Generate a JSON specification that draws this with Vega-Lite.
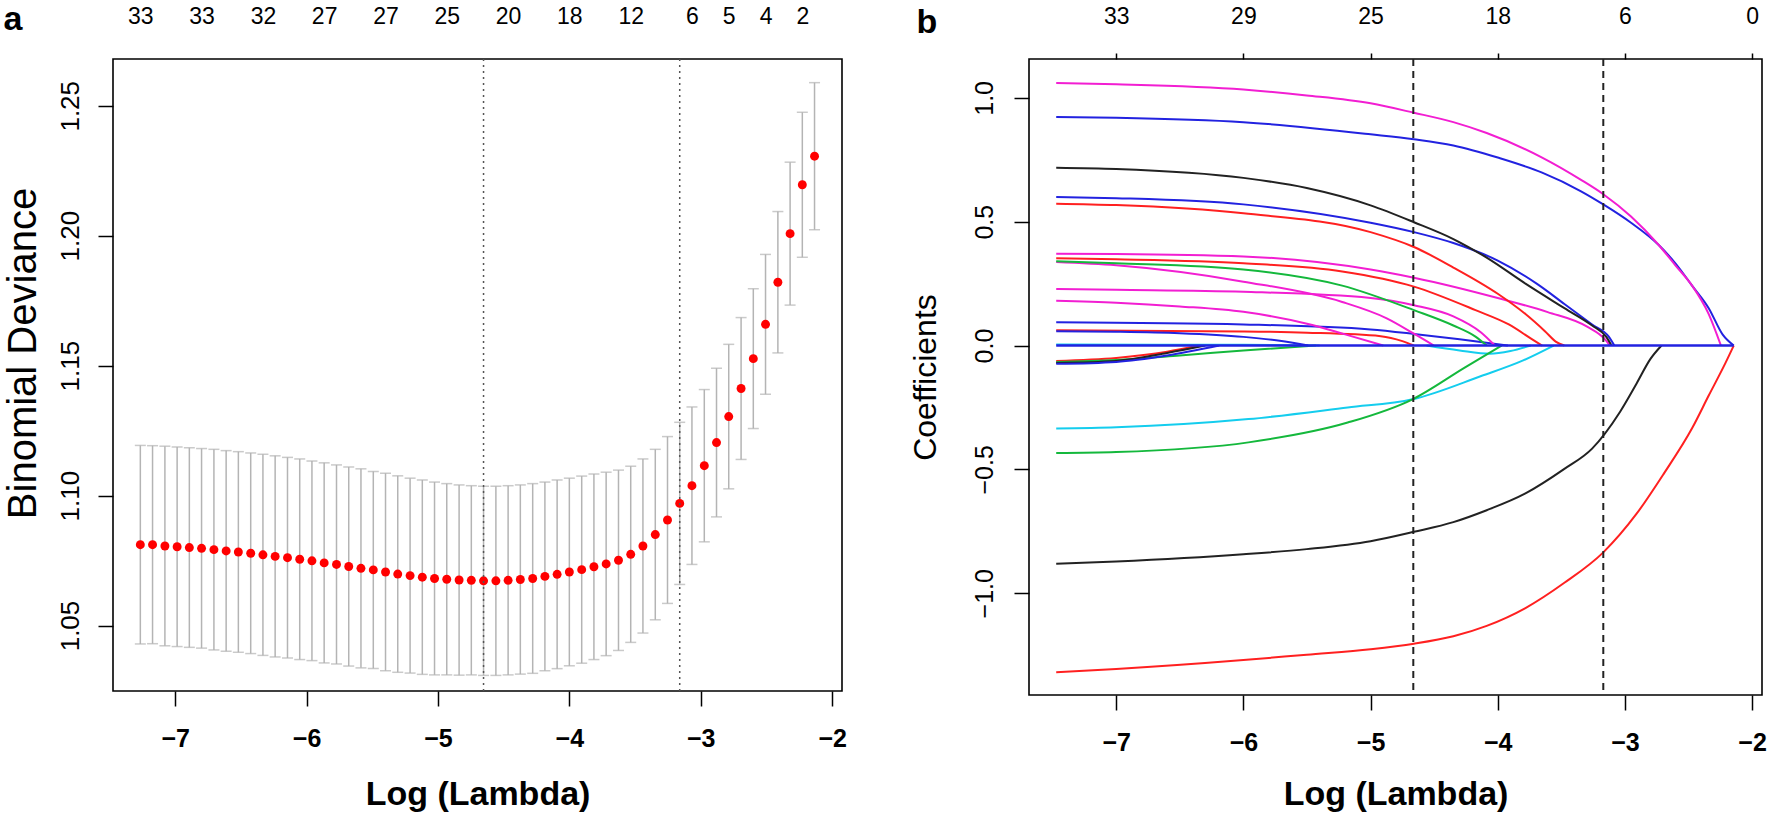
{
  "$schema": "https://vega.github.io/schema/vega-lite/v6.json",
  "padding": {"left": 2, "top": 1, "right": 2, "bottom": 2},
  "background": "white",
  "config": {
    "font": "Liberation Sans",
    "view": {"stroke": "#000000", "strokeWidth": 1.6},
    "axis": {"grid": false, "domain": false, "tickColor": "#000000", "tickWidth": 1.5, "labelColor": "#000000", "titleColor": "#000000", "labelOverlap": false, "labelFlush": false, "labelBound": false, "labelFont": "Liberation Sans", "titleFont": "Liberation Sans"}
  },
  "datasets": {
    "cv": [
      {"x": -7.265, "dev": 1.0811, "lo": 1.0429, "hi": 1.1193},
      {"x": -7.172, "dev": 1.0811, "lo": 1.0430, "hi": 1.1192},
      {"x": -7.078, "dev": 1.0806, "lo": 1.0422, "hi": 1.1190},
      {"x": -6.985, "dev": 1.0803, "lo": 1.0419, "hi": 1.1187},
      {"x": -6.892, "dev": 1.0800, "lo": 1.0416, "hi": 1.1184},
      {"x": -6.799, "dev": 1.0797, "lo": 1.0413, "hi": 1.1181},
      {"x": -6.705, "dev": 1.0792, "lo": 1.0406, "hi": 1.1178},
      {"x": -6.612, "dev": 1.0787, "lo": 1.0401, "hi": 1.1173},
      {"x": -6.519, "dev": 1.0783, "lo": 1.0397, "hi": 1.1169},
      {"x": -6.425, "dev": 1.0778, "lo": 1.0392, "hi": 1.1164},
      {"x": -6.332, "dev": 1.0772, "lo": 1.0385, "hi": 1.1159},
      {"x": -6.239, "dev": 1.0766, "lo": 1.0379, "hi": 1.1153},
      {"x": -6.145, "dev": 1.0761, "lo": 1.0375, "hi": 1.1147},
      {"x": -6.052, "dev": 1.0755, "lo": 1.0369, "hi": 1.1141},
      {"x": -5.959, "dev": 1.0749, "lo": 1.0365, "hi": 1.1133},
      {"x": -5.866, "dev": 1.0741, "lo": 1.0356, "hi": 1.1126},
      {"x": -5.772, "dev": 1.0735, "lo": 1.0352, "hi": 1.1118},
      {"x": -5.679, "dev": 1.0727, "lo": 1.0344, "hi": 1.1110},
      {"x": -5.586, "dev": 1.0720, "lo": 1.0337, "hi": 1.1103},
      {"x": -5.492, "dev": 1.0714, "lo": 1.0335, "hi": 1.1093},
      {"x": -5.399, "dev": 1.0706, "lo": 1.0326, "hi": 1.1086},
      {"x": -5.306, "dev": 1.0698, "lo": 1.0320, "hi": 1.1076},
      {"x": -5.212, "dev": 1.0692, "lo": 1.0317, "hi": 1.1067},
      {"x": -5.119, "dev": 1.0686, "lo": 1.0312, "hi": 1.1060},
      {"x": -5.026, "dev": 1.0681, "lo": 1.0310, "hi": 1.1052},
      {"x": -4.933, "dev": 1.0678, "lo": 1.0310, "hi": 1.1046},
      {"x": -4.839, "dev": 1.0675, "lo": 1.0309, "hi": 1.1041},
      {"x": -4.746, "dev": 1.0674, "lo": 1.0310, "hi": 1.1038},
      {"x": -4.653, "dev": 1.0672, "lo": 1.0308, "hi": 1.1036},
      {"x": -4.559, "dev": 1.0672, "lo": 1.0308, "hi": 1.1036},
      {"x": -4.466, "dev": 1.0674, "lo": 1.0310, "hi": 1.1038},
      {"x": -4.373, "dev": 1.0677, "lo": 1.0313, "hi": 1.1041},
      {"x": -4.279, "dev": 1.0681, "lo": 1.0316, "hi": 1.1046},
      {"x": -4.186, "dev": 1.0689, "lo": 1.0326, "hi": 1.1052},
      {"x": -4.093, "dev": 1.0697, "lo": 1.0334, "hi": 1.1060},
      {"x": -4.000, "dev": 1.0706, "lo": 1.0345, "hi": 1.1067},
      {"x": -3.906, "dev": 1.0715, "lo": 1.0355, "hi": 1.1075},
      {"x": -3.813, "dev": 1.0726, "lo": 1.0369, "hi": 1.1083},
      {"x": -3.720, "dev": 1.0737, "lo": 1.0384, "hi": 1.1090},
      {"x": -3.626, "dev": 1.0751, "lo": 1.0404, "hi": 1.1098},
      {"x": -3.533, "dev": 1.0774, "lo": 1.0435, "hi": 1.1113},
      {"x": -3.440, "dev": 1.0806, "lo": 1.0471, "hi": 1.1141},
      {"x": -3.346, "dev": 1.0850, "lo": 1.0522, "hi": 1.1178},
      {"x": -3.253, "dev": 1.0906, "lo": 1.0585, "hi": 1.1227},
      {"x": -3.160, "dev": 1.0970, "lo": 1.0658, "hi": 1.1282},
      {"x": -3.067, "dev": 1.1038, "lo": 1.0735, "hi": 1.1341},
      {"x": -2.973, "dev": 1.1115, "lo": 1.0822, "hi": 1.1408},
      {"x": -2.880, "dev": 1.1204, "lo": 1.0918, "hi": 1.1490},
      {"x": -2.787, "dev": 1.1304, "lo": 1.1026, "hi": 1.1582},
      {"x": -2.693, "dev": 1.1412, "lo": 1.1139, "hi": 1.1685},
      {"x": -2.600, "dev": 1.1527, "lo": 1.1258, "hi": 1.1796},
      {"x": -2.507, "dev": 1.1659, "lo": 1.1390, "hi": 1.1928},
      {"x": -2.413, "dev": 1.1821, "lo": 1.1549, "hi": 1.2093},
      {"x": -2.320, "dev": 1.2008, "lo": 1.1733, "hi": 1.2283},
      {"x": -2.227, "dev": 1.2196, "lo": 1.1917, "hi": 1.2475},
      {"x": -2.134, "dev": 1.2306, "lo": 1.2023, "hi": 1.2589}
    ],
    "vla": [{"x": -4.653}, {"x": -3.16}],
    "vlb": [{"x": -4.664}, {"x": -3.17}],
    "zero": [{"v": "V0", "x": -7.472, "y": 0}, {"v": "V0", "x": -2.144, "y": 0}],
    "paths": [
      {"v": "V20", "x": -7.472, "y": -0.062}, {"v": "V20", "x": -7.0, "y": -0.05}, {"v": "V20", "x": -6.6, "y": -0.025}, {"v": "V20", "x": -6.35, "y": 0},
      {"v": "V22", "x": -7.472, "y": -0.066}, {"v": "V22", "x": -7.0, "y": -0.058}, {"v": "V22", "x": -6.5, "y": -0.04}, {"v": "V22", "x": -6.0, "y": -0.02}, {"v": "V22", "x": -5.43, "y": 0},
      {"v": "V23", "x": -7.472, "y": -0.07}, {"v": "V23", "x": -7.0, "y": -0.062}, {"v": "V23", "x": -6.6, "y": -0.03}, {"v": "V23", "x": -6.3, "y": 0},
      {"v": "V21", "x": -7.472, "y": -0.074}, {"v": "V21", "x": -7.0, "y": -0.066}, {"v": "V21", "x": -6.6, "y": -0.04}, {"v": "V21", "x": -6.19, "y": 0},
      {"v": "V25", "x": -7.472, "y": 0.004}, {"v": "V25", "x": -6.0, "y": 0.003}, {"v": "V25", "x": -5.4, "y": 0},
      {"v": "V13", "x": -7.472, "y": 0.062}, {"v": "V13", "x": -6.0, "y": 0.057}, {"v": "V13", "x": -5.5, "y": 0.052}, {"v": "V13", "x": -4.92, "y": 0.038}, {"v": "V13", "x": -4.75, "y": 0.018}, {"v": "V13", "x": -4.66, "y": 0},
      {"v": "V14", "x": -7.472, "y": 0.058}, {"v": "V14", "x": -7.0, "y": 0.056}, {"v": "V14", "x": -6.5, "y": 0.05}, {"v": "V14", "x": -6.0, "y": 0.035}, {"v": "V14", "x": -5.7, "y": 0.018}, {"v": "V14", "x": -5.49, "y": 0},
      {"v": "V12", "x": -7.472, "y": 0.094}, {"v": "V12", "x": -6.0, "y": 0.085}, {"v": "V12", "x": -5.0, "y": 0.065}, {"v": "V12", "x": -4.659, "y": 0.047}, {"v": "V12", "x": -4.3, "y": 0.025}, {"v": "V12", "x": -3.92, "y": 0},
      {"v": "V11", "x": -7.472, "y": 0.181}, {"v": "V11", "x": -7.0, "y": 0.173}, {"v": "V11", "x": -6.5, "y": 0.158}, {"v": "V11", "x": -6.0, "y": 0.136}, {"v": "V11", "x": -5.5, "y": 0.088}, {"v": "V11", "x": -5.2, "y": 0.045}, {"v": "V11", "x": -4.9, "y": 0},
      {"v": "V10", "x": -7.472, "y": 0.228}, {"v": "V10", "x": -7.0, "y": 0.225}, {"v": "V10", "x": -6.0, "y": 0.217}, {"v": "V10", "x": -5.0, "y": 0.192}, {"v": "V10", "x": -4.659, "y": 0.163}, {"v": "V10", "x": -4.349, "y": 0.118}, {"v": "V10", "x": -4.131, "y": 0.053}, {"v": "V10", "x": -4.022, "y": 0},
      {"v": "V9", "x": -7.472, "y": 0.337}, {"v": "V9", "x": -7.0, "y": 0.324}, {"v": "V9", "x": -6.0, "y": 0.258}, {"v": "V9", "x": -5.223, "y": 0.176}, {"v": "V9", "x": -4.873, "y": 0.11}, {"v": "V9", "x": -4.659, "y": 0.048}, {"v": "V9", "x": -4.502, "y": 0},
      {"v": "V8", "x": -7.472, "y": 0.34}, {"v": "V8", "x": -7.0, "y": 0.332}, {"v": "V8", "x": -6.0, "y": 0.307}, {"v": "V8", "x": -5.223, "y": 0.242}, {"v": "V8", "x": -4.659, "y": 0.143}, {"v": "V8", "x": -4.349, "y": 0.081}, {"v": "V8", "x": -4.175, "y": 0.036}, {"v": "V8", "x": -4.087, "y": 0},
      {"v": "V7", "x": -7.472, "y": 0.352}, {"v": "V7", "x": -7.0, "y": 0.348}, {"v": "V7", "x": -6.0, "y": 0.332}, {"v": "V7", "x": -5.223, "y": 0.299}, {"v": "V7", "x": -4.659, "y": 0.238}, {"v": "V7", "x": -4.175, "y": 0.143}, {"v": "V7", "x": -3.913, "y": 0.085}, {"v": "V7", "x": -3.738, "y": 0.028}, {"v": "V7", "x": -3.651, "y": 0},
      {"v": "V6", "x": -7.472, "y": 0.371}, {"v": "V6", "x": -7.0, "y": 0.37}, {"v": "V6", "x": -6.0, "y": 0.36}, {"v": "V6", "x": -5.0, "y": 0.307}, {"v": "V6", "x": -4.659, "y": 0.274}, {"v": "V6", "x": -4.0, "y": 0.192}, {"v": "V6", "x": -3.607, "y": 0.135}, {"v": "V6", "x": -3.301, "y": 0.077}, {"v": "V6", "x": -3.148, "y": 0.02}, {"v": "V6", "x": -3.118, "y": 0},
      {"v": "V5", "x": -7.472, "y": 0.573}, {"v": "V5", "x": -7.0, "y": 0.567}, {"v": "V5", "x": -6.0, "y": 0.534}, {"v": "V5", "x": -5.0, "y": 0.458}, {"v": "V5", "x": -4.659, "y": 0.398}, {"v": "V5", "x": -4.349, "y": 0.315}, {"v": "V5", "x": -4.0, "y": 0.209}, {"v": "V5", "x": -3.782, "y": 0.127}, {"v": "V5", "x": -3.629, "y": 0.058}, {"v": "V5", "x": -3.541, "y": 0.015}, {"v": "V5", "x": -3.476, "y": 0},
      {"v": "V4", "x": -7.472, "y": 0.6}, {"v": "V4", "x": -7.0, "y": 0.595}, {"v": "V4", "x": -6.0, "y": 0.57}, {"v": "V4", "x": -5.0, "y": 0.496}, {"v": "V4", "x": -4.659, "y": 0.458}, {"v": "V4", "x": -4.349, "y": 0.414}, {"v": "V4", "x": -4.0, "y": 0.343}, {"v": "V4", "x": -3.694, "y": 0.25}, {"v": "V4", "x": -3.476, "y": 0.168}, {"v": "V4", "x": -3.258, "y": 0.085}, {"v": "V4", "x": -3.127, "y": 0.036}, {"v": "V4", "x": -3.083, "y": 0},
      {"v": "V3", "x": -7.472, "y": 0.718}, {"v": "V3", "x": -7.0, "y": 0.713}, {"v": "V3", "x": -6.0, "y": 0.677}, {"v": "V3", "x": -5.502, "y": 0.636}, {"v": "V3", "x": -5.0, "y": 0.566}, {"v": "V3", "x": -4.659, "y": 0.498}, {"v": "V3", "x": -4.349, "y": 0.43}, {"v": "V3", "x": -4.087, "y": 0.355}, {"v": "V3", "x": -3.782, "y": 0.25}, {"v": "V3", "x": -3.476, "y": 0.151}, {"v": "V3", "x": -3.258, "y": 0.081}, {"v": "V3", "x": -3.148, "y": 0.036}, {"v": "V3", "x": -3.105, "y": 0},
      {"v": "V2", "x": -7.472, "y": 0.923}, {"v": "V2", "x": -7.0, "y": 0.92}, {"v": "V2", "x": -6.0, "y": 0.902}, {"v": "V2", "x": -5.0, "y": 0.853}, {"v": "V2", "x": -4.659, "y": 0.833}, {"v": "V2", "x": -4.349, "y": 0.808}, {"v": "V2", "x": -4.0, "y": 0.759}, {"v": "V2", "x": -3.651, "y": 0.698}, {"v": "V2", "x": -3.345, "y": 0.623}, {"v": "V2", "x": -3.17, "y": 0.57}, {"v": "V2", "x": -2.952, "y": 0.496}, {"v": "V2", "x": -2.734, "y": 0.406}, {"v": "V2", "x": -2.603, "y": 0.332}, {"v": "V2", "x": -2.472, "y": 0.242}, {"v": "V2", "x": -2.341, "y": 0.151}, {"v": "V2", "x": -2.231, "y": 0.044}, {"v": "V2", "x": -2.144, "y": 0},
      {"v": "V1", "x": -7.472, "y": 1.06}, {"v": "V1", "x": -7.0, "y": 1.055}, {"v": "V1", "x": -6.0, "y": 1.034}, {"v": "V1", "x": -5.502, "y": 1.01}, {"v": "V1", "x": -5.0, "y": 0.978}, {"v": "V1", "x": -4.659, "y": 0.94}, {"v": "V1", "x": -4.349, "y": 0.902}, {"v": "V1", "x": -4.087, "y": 0.858}, {"v": "V1", "x": -3.651, "y": 0.759}, {"v": "V1", "x": -3.345, "y": 0.669}, {"v": "V1", "x": -3.17, "y": 0.611}, {"v": "V1", "x": -2.952, "y": 0.521}, {"v": "V1", "x": -2.734, "y": 0.406}, {"v": "V1", "x": -2.603, "y": 0.324}, {"v": "V1", "x": -2.472, "y": 0.242}, {"v": "V1", "x": -2.341, "y": 0.127}, {"v": "V1", "x": -2.245, "y": 0},
      {"v": "V24", "x": -4.56, "y": 0}, {"v": "V24", "x": -4.3, "y": -0.02}, {"v": "V24", "x": -4.06, "y": -0.033}, {"v": "V24", "x": -3.9, "y": -0.022}, {"v": "V24", "x": -3.74, "y": 0},
      {"v": "V18", "x": -7.472, "y": -0.335}, {"v": "V18", "x": -7.0, "y": -0.33}, {"v": "V18", "x": -5.96, "y": -0.297}, {"v": "V18", "x": -5.18, "y": -0.25}, {"v": "V18", "x": -4.67, "y": -0.217}, {"v": "V18", "x": -4.13, "y": -0.123}, {"v": "V18", "x": -3.8, "y": -0.06}, {"v": "V18", "x": -3.56, "y": 0},
      {"v": "V19", "x": -7.472, "y": -0.434}, {"v": "V19", "x": -7.0, "y": -0.43}, {"v": "V19", "x": -5.96, "y": -0.391}, {"v": "V19", "x": -5.18, "y": -0.311}, {"v": "V19", "x": -4.67, "y": -0.217}, {"v": "V19", "x": -4.26, "y": -0.089}, {"v": "V19", "x": -3.97, "y": 0},
      {"v": "V16", "x": -7.472, "y": -0.881}, {"v": "V16", "x": -7.0, "y": -0.872}, {"v": "V16", "x": -6.0, "y": -0.843}, {"v": "V16", "x": -5.502, "y": -0.822}, {"v": "V16", "x": -5.0, "y": -0.79}, {"v": "V16", "x": -4.659, "y": -0.752}, {"v": "V16", "x": -4.349, "y": -0.713}, {"v": "V16", "x": -4.087, "y": -0.665}, {"v": "V16", "x": -3.782, "y": -0.597}, {"v": "V16", "x": -3.476, "y": -0.498}, {"v": "V16", "x": -3.258, "y": -0.416}, {"v": "V16", "x": -3.039, "y": -0.268}, {"v": "V16", "x": -2.908, "y": -0.153}, {"v": "V16", "x": -2.799, "y": -0.054}, {"v": "V16", "x": -2.712, "y": 0},
      {"v": "V17", "x": -7.472, "y": -1.319}, {"v": "V17", "x": -7.0, "y": -1.306}, {"v": "V17", "x": -6.0, "y": -1.27}, {"v": "V17", "x": -5.502, "y": -1.248}, {"v": "V17", "x": -5.0, "y": -1.226}, {"v": "V17", "x": -4.659, "y": -1.204}, {"v": "V17", "x": -4.349, "y": -1.174}, {"v": "V17", "x": -4.087, "y": -1.132}, {"v": "V17", "x": -3.782, "y": -1.06}, {"v": "V17", "x": -3.476, "y": -0.958}, {"v": "V17", "x": -3.17, "y": -0.835}, {"v": "V17", "x": -2.908, "y": -0.679}, {"v": "V17", "x": -2.69, "y": -0.514}, {"v": "V17", "x": -2.472, "y": -0.334}, {"v": "V17", "x": -2.341, "y": -0.202}, {"v": "V17", "x": -2.21, "y": -0.071}, {"v": "V17", "x": -2.144, "y": 0}
    ]
  },
  "hconcat": [
    {
      "width": 729,
      "height": 632,
      "layer": [
        {
          "data": {"name": "cv"},
          "mark": {"type": "rule", "color": "#b4b4b4", "strokeWidth": 1.5},
          "encoding": {
            "x": {"field": "x", "type": "quantitative", "scale": {"domain": [-7.473, -1.925], "nice": false, "zero": false},
                  "axis": {"orient": "bottom", "values": [-7, -6, -5, -4, -3, -2], "format": "d", "tickSize": 15, "labelPadding": 20, "labelFontSize": 25, "labelFontWeight": "bold", "title": "Log (Lambda)", "titleFontSize": 34, "titleFontWeight": "bold", "titlePadding": 26}},
            "y": {"field": "lo", "type": "quantitative", "scale": {"domain": [1.0248, 1.268], "nice": false, "zero": false},
                  "axis": {"values": [1.05, 1.1, 1.15, 1.2, 1.25], "format": ".2f", "tickSize": 15, "labelAngle": -90, "labelAlign": "center", "labelBaseline": "bottom", "labelPadding": 15, "labelFontSize": 26, "title": "Binomial Deviance", "titleFontSize": 40, "titleFontWeight": "normal", "titlePadding": 14, "titleY": 294}},
            "y2": {"field": "hi"}
          }
        },
        {
          "data": {"name": "cv"},
          "mark": {"type": "tick", "orient": "horizontal", "color": "#b4b4b4", "size": 11, "thickness": 1.5},
          "encoding": {
            "x": {"field": "x", "type": "quantitative", "axis": null},
            "y": {"field": "hi", "type": "quantitative", "axis": null}
          }
        },
        {
          "data": {"name": "cv"},
          "mark": {"type": "tick", "orient": "horizontal", "color": "#b4b4b4", "size": 11, "thickness": 1.5},
          "encoding": {
            "x": {"field": "x", "type": "quantitative", "axis": null},
            "y": {"field": "lo", "type": "quantitative", "axis": null}
          }
        },
        {
          "data": {"name": "cv"},
          "mark": {"type": "circle", "color": "#ff0000", "size": 80, "opacity": 1},
          "encoding": {
            "x": {"field": "x", "type": "quantitative",
                  "axis": {"orient": "top", "values": [-7.265, -6.799, -6.332, -5.866, -5.399, -4.933, -4.466, -4.0, -3.533, -3.067, -2.787, -2.507, -2.227], "ticks": false, "tickSize": 0, "labelPadding": 31, "labelFontSize": 23,
                           "title": "a", "titleX": -110, "titleY": -30, "titleAlign": "left", "titleBaseline": "alphabetic", "titleAngle": 0, "titleFontSize": 34, "titleFontWeight": "bold",
                           "labelExpr": "datum.value < -7 ? '33' : datum.value < -6.5 ? '33' : datum.value < -6.1 ? '32' : datum.value < -5.6 ? '27' : datum.value < -5.2 ? '27' : datum.value < -4.7 ? '25' : datum.value < -4.2 ? '20' : datum.value < -3.8 ? '18' : datum.value < -3.3 ? '12' : datum.value < -2.9 ? '6' : datum.value < -2.6 ? '5' : datum.value < -2.35 ? '4' : '2'"}},
            "y": {"field": "dev", "type": "quantitative", "axis": null}
          }
        },
        {
          "data": {"name": "vla"},
          "mark": {"type": "rule", "color": "#555555", "strokeDash": [2, 4], "strokeWidth": 1.5},
          "encoding": {
            "x": {"field": "x", "type": "quantitative", "axis": null}
          }
        }
      ],
      "resolve": {"axis": {"x": "independent", "y": "independent"}}
    },
    {
      "width": 733,
      "height": 636,
      "layer": [
        {
          "data": {"name": "paths"},
          "mark": {"type": "line", "strokeWidth": 2, "interpolate": "monotone"},
          "encoding": {
            "x": {"field": "x", "type": "quantitative", "scale": {"domain": [-7.686, -1.922], "nice": false, "zero": false},
                  "axis": {"orient": "bottom", "values": [-7, -6, -5, -4, -3, -2], "format": "d", "tickSize": 15, "labelPadding": 20, "labelFontSize": 25, "labelFontWeight": "bold", "title": "Log (Lambda)", "titleFontSize": 34, "titleFontWeight": "bold", "titlePadding": 22}},
            "y": {"field": "y", "type": "quantitative", "scale": {"domain": [-1.411, 1.157], "nice": false, "zero": false},
                  "axis": {"values": [-1, -0.5, 0, 0.5, 1], "format": ".1f", "tickSize": 15, "labelAngle": -90, "labelAlign": "center", "labelBaseline": "bottom", "labelPadding": 17, "labelFontSize": 25, "title": "Coefficients", "titleFontSize": 32, "titleFontWeight": "normal", "titlePadding": 30}},
            "color": {"field": "v", "type": "nominal", "legend": null,
                      "scale": {"domain": ["V1", "V2", "V3", "V4", "V5", "V6", "V7", "V8", "V9", "V10", "V11", "V12", "V13", "V14", "V16", "V17", "V18", "V19", "V20", "V21", "V22", "V23", "V24", "V25"],
                                "range": ["#f21ed2", "#2222e0", "#222222", "#2222e0", "#ff2020", "#f21ed2", "#ff2020", "#14b83c", "#f21ed2", "#f21ed2", "#f21ed2", "#2222e0", "#ff2020", "#2222e0", "#222222", "#ff2020", "#14cdee", "#14b83c", "#ff2020", "#2222e0", "#14b83c", "#222222", "#14cdee", "#14cdee"]}}
          }
        },
        {
          "data": {"name": "zero"},
          "mark": {"type": "line", "strokeWidth": 2.5, "color": "#2222e0"},
          "encoding": {
            "x": {"field": "x", "type": "quantitative",
                  "axis": {"orient": "top", "values": [-7, -6, -5, -4, -3, -2], "tickSize": 6, "labelPadding": 25, "labelFontSize": 23,
                           "title": "b", "titleX": -113, "titleY": -27, "titleAlign": "left", "titleBaseline": "alphabetic", "titleAngle": 0, "titleFontSize": 34, "titleFontWeight": "bold",
                           "labelExpr": "datum.value < -6.5 ? '33' : datum.value < -5.5 ? '29' : datum.value < -4.5 ? '25' : datum.value < -3.5 ? '18' : datum.value < -2.5 ? '6' : '0'"}},
            "y": {"field": "y", "type": "quantitative", "axis": null}
          }
        },
        {
          "data": {"name": "vlb"},
          "mark": {"type": "rule", "color": "#222222", "strokeDash": [7, 5], "strokeWidth": 2},
          "encoding": {
            "x": {"field": "x", "type": "quantitative", "axis": null}
          }
        }
      ],
      "resolve": {"axis": {"x": "independent", "y": "independent"}}
    }
  ],
  "spacing": 60
}
